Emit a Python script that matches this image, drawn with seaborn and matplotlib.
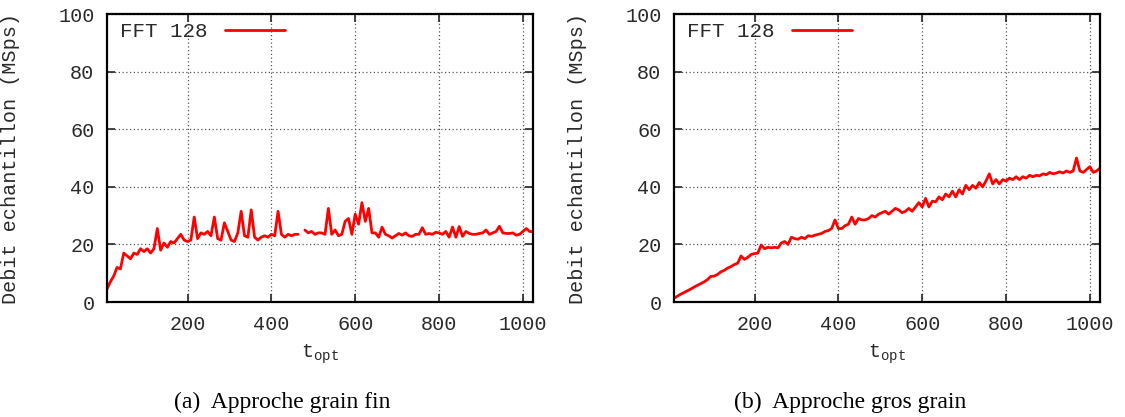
import numpy as np
import pandas as pd
import matplotlib
matplotlib.use('Agg')
import matplotlib.pyplot as plt
import seaborn as sns

# style gnuplot-like
sns.set_style('ticks')
plt.rcParams['font.family'] = ['Liberation Mono', 'DejaVu Sans Mono']
plt.rcParams['mathtext.fontset'] = 'custom'
plt.rcParams['mathtext.rm'] = 'Liberation Mono'
plt.rcParams['font.size'] = 14.5

# données
t_opt = np.arange(8, 1025, 8)

debit_fin = [
    4.5, 7.0, 9.0, 12.0, 11.5, 17.0, 16.0, 15.0,
    17.0, 16.5, 18.5, 17.5, 18.5, 17.0, 18.5, 25.5,
    18.0, 20.5, 19.0, 21.0, 20.5, 22.0, 23.5, 21.5,
    21.0, 21.5, 29.5, 22.0, 24.0, 23.5, 24.5, 23.0,
    29.5, 22.0, 21.5, 27.5, 24.5, 21.5, 21.0, 24.0,
    31.5, 23.0, 22.5, 32.0, 22.5, 21.5, 22.5, 23.0,
    22.5, 23.5, 23.0, 31.5, 23.5, 22.5, 23.5, 23.0,
    23.5, 23.5, np.nan, 25.0, 24.0, 24.5, 23.5, 24.0,
    24.0, 23.5, 32.5, 23.5, 25.0, 23.0, 23.5, 28.0,
    29.0, 23.5, 30.5, 27.0, 34.5, 28.0, 32.5, 24.0,
    24.0, 22.5, 26.0, 23.5, 23.0, 22.2, 23.0, 23.8,
    23.2, 24.0, 23.0, 22.8, 23.5, 23.5, 25.8, 23.5,
    23.8, 23.5, 24.2, 24.0, 23.5, 24.5, 22.5, 26.0,
    22.5, 26.2, 22.8, 24.5, 23.8, 23.5, 23.5, 23.8,
    24.0, 25.0, 23.5, 24.0, 24.5, 26.3, 24.0, 23.8,
    23.8, 24.0, 23.2, 23.5, 24.5, 25.5, 24.5, 24.4,
]

debit_gros = [
    1.3, 2.0, 2.7, 3.3, 3.9, 4.5, 5.2, 5.8,
    6.4, 7.0, 7.8, 8.9, 9.0, 9.6, 10.5, 11.0,
    11.8, 12.3, 13.0, 13.5, 16.0, 14.8, 15.5, 16.5,
    16.8, 17.0, 19.8, 18.5, 19.0, 18.8, 19.0, 18.8,
    20.5, 21.0, 20.0, 22.5, 22.0, 21.8, 22.5, 22.0,
    23.0, 22.8, 23.2, 23.5, 23.8, 24.5, 24.8, 25.5,
    28.5, 25.5, 25.5, 26.5, 27.0, 29.5, 27.0, 29.0,
    28.5, 28.5, 29.0, 30.0, 29.5, 30.5, 31.0, 31.5,
    30.5, 31.5, 32.5, 32.0, 31.0, 31.5, 32.5, 31.5,
    33.0, 34.5, 33.0, 36.0, 33.0, 35.0, 34.8, 36.5,
    35.5, 37.5, 36.5, 38.5, 36.5, 39.0, 37.5, 40.5,
    39.0, 40.5, 39.5, 41.5, 40.0, 42.0, 44.5, 41.0,
    42.5, 41.0, 42.5, 42.0, 43.0, 42.5, 43.5, 42.5,
    43.5, 43.0, 44.0, 43.5, 44.0, 43.8, 44.5, 44.2,
    45.0, 44.5, 44.8, 45.2, 44.8, 45.5, 45.0, 45.5,
    50.0, 45.5, 45.0, 46.0, 47.0, 45.0, 45.5, 46.5,
]

panneaux = [
    (debit_fin, '(a)  Approche grain fin'),
    (debit_gros, '(b)  Approche gros grain'),
]

fig = plt.figure(figsize=(11.25, 4.17), dpi=100)
gauches = [107 / 1125, 674 / 1125]
centres_legende = [282 / 1125, 850 / 1125]
texte = '#2a2a2a'

for (valeurs, legende), g, c in zip(panneaux, gauches, centres_legende):
    ax = fig.add_axes([g, 115 / 417, 426 / 1125, 288 / 417])
    df = pd.DataFrame({'t_opt': t_opt, 'debit': valeurs})
    # segments séparés par les valeurs manquantes (trou dans la courbe)
    df['segment'] = df['debit'].isna().cumsum()
    df = df.dropna()
    sns.lineplot(data=df, x='t_opt', y='debit', units='segment', ax=ax,
                 color='red', linewidth=2.0, estimator=None, sort=False)
    ax.plot([], [], color='red', linewidth=2.0, label='FFT 128')
    ax.set_xlim(8, 1024)
    ax.set_ylim(0, 100)
    ax.set_xticks([200, 400, 600, 800, 1000])
    ax.set_yticks([0, 20, 40, 60, 80, 100])
    ax.grid(True, linestyle=(0, (1, 2)), color='#555555', linewidth=0.9)
    ax.tick_params(direction='in', length=6, width=1.2, top=True, right=True,
                   labelsize=14.5, labelcolor=texte, pad=9)
    for s in ax.spines.values():
        s.set_linewidth(1.6)
        s.set_color('black')
    ax.set_ylabel('Debit echantillon (MSps)', color=texte, fontsize=14.5)
    ax.yaxis.set_label_coords(-0.204, 0.5)
    ax.set_xlabel('t$_{\\mathrm{opt}}$', color=texte, fontsize=14.5)
    ax.xaxis.set_label_coords(0.5, -0.14)
    leg = ax.legend(loc='upper left', bbox_to_anchor=(0.012, 1.0),
                    frameon=False, markerfirst=False,
                    handlelength=2.9, borderaxespad=0.0, fontsize=15)
    for t in leg.get_texts():
        t.set_color(texte)
    fig.text(c, 0.036, legende, ha='center', va='center',
             fontsize=17, family='Liberation Serif', color='black')

plt.savefig('out.png', dpi=100)
